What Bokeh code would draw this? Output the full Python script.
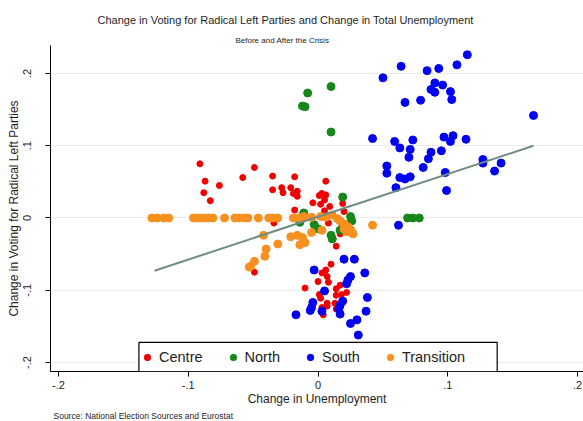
from bokeh.plotting import figure
from bokeh.models import (FixedTicker, Legend, LegendItem, Title, BoxAnnotation, Range1d)
from bokeh.embed import file_html
from bokeh.resources import INLINE

# ---------------- data ----------------
centre_x = [-0.091, -0.087, -0.076, -0.088, -0.083, -0.058, -0.049, -0.035, -0.018, 0.006,
            -0.035, -0.028, -0.027, -0.021, -0.019, -0.016, -0.016, 0.003, 0.006, 0.001,
            0.005, -0.004, 0.002, 0.009, -0.018, 0.005, 0.019, 0.020, -0.034, 0.008,
            0.017, 0.014, -0.049, 0.010, 0.006, 0.003, 0.007, 0.000, 0.008, -0.010,
            0.017, 0.014, 0.022, 0.001, 0.014, 0.018, 0.002, 0.007, 0.013, 0.003,
            0.007, 0.014, 0.004]
centre_y = [0.075, 0.051, 0.045, 0.035, 0.024, 0.056, 0.070, 0.058, 0.057, 0.051,
            0.039, 0.042, 0.035, 0.042, 0.034, 0.037, 0.030, 0.034, 0.032, 0.031,
            0.025, 0.021, 0.019, 0.016, 0.011, 0.010, 0.020, 0.009, -0.007, -0.007,
            -0.022, -0.039, -0.075, -0.064, -0.072, -0.076, -0.081, -0.088, -0.089, -0.097,
            -0.093, -0.098, -0.103, -0.106, -0.107, -0.106, -0.111, -0.118, -0.118, -0.124,
            -0.122, -0.126, -0.134]

north_x = [-0.008, 0.010, -0.012, -0.010, 0.010, 0.069, 0.073, 0.078, 0.019, -0.011,
           -0.003, 0.000, 0.010, 0.011, 0.017, 0.025, 0.026, 0.019, -0.014]
north_y = [0.173, 0.182, 0.155, 0.154, 0.119, 0.000, 0.000, 0.000, 0.029, 0.007,
           -0.009, -0.015, -0.024, -0.029, -0.017, 0.002, -0.004, -0.013, -0.006]

south_x = [0.050, 0.064, 0.084, 0.093, 0.107, 0.115, 0.090, 0.096, 0.087, 0.090,
           0.102, 0.103, 0.079, 0.067, 0.166, 0.042, 0.059, 0.073, 0.063, 0.071,
           0.070, 0.087, 0.085, 0.095, 0.097, 0.102, 0.104, 0.114, 0.053, 0.053,
           0.081, 0.063, 0.067, 0.071, 0.098, 0.127, 0.127, 0.141, 0.136, 0.060,
           0.099, 0.062, 0.020, 0.028, -0.003, 0.036, 0.025, 0.023, 0.022, 0.005,
           0.038, -0.004, 0.019, -0.005, -0.006, 0.003, 0.016, 0.017, 0.037, -0.017,
           0.030, 0.025, 0.031, 0.017]
south_y = [0.194, 0.210, 0.204, 0.207, 0.212, 0.226, 0.187, 0.184, 0.178, 0.174,
           0.175, 0.164, 0.163, 0.160, 0.142, 0.110, 0.106, 0.108, 0.097, 0.095,
           0.084, 0.091, 0.082, 0.093, 0.112, 0.106, 0.114, 0.109, 0.072, 0.062,
           0.070, 0.056, 0.054, 0.057, 0.063, 0.081, 0.076, 0.076, 0.065, 0.042,
           0.038, -0.010, -0.057, -0.057, -0.072, -0.076, -0.081, -0.086, -0.091, -0.101,
           -0.110, -0.117, -0.115, -0.124, -0.128, -0.129, -0.126, -0.133, -0.129, -0.134,
           -0.141, -0.146, -0.162, -0.121]

trans_x = [-0.128, -0.124, -0.119, -0.115, -0.096, -0.093, -0.090, -0.087, -0.084, -0.081,
           -0.072, -0.064, -0.061, -0.057, -0.054, -0.046, -0.038, -0.035, -0.031, -0.019,
           -0.015, -0.011, -0.005, 0.002, 0.006, 0.011, 0.015,
           0.017, 0.020, 0.023, 0.025, 0.027, 0.022, 0.020, 0.042,
           -0.042, -0.021, -0.016, -0.031, -0.040, -0.041, -0.049, -0.052, -0.053, -0.012,
           -0.010, -0.014, -0.005, 0.003, 0.026]
trans_y = [0.000, 0.000, 0.000, 0.000, 0.000, 0.000, 0.000, 0.000, 0.000, 0.000,
           0.000, 0.000, 0.000, 0.000, 0.000, 0.000, 0.000, 0.000, 0.000, 0.000,
           0.000, 0.002, 0.001, 0.002, 0.001, 0.004, -0.001,
           -0.004, -0.008, -0.012, -0.016, -0.022, -0.019, -0.015, -0.010,
           -0.024, -0.026, -0.024, -0.036, -0.043, -0.053, -0.060, -0.067, -0.068, -0.027,
           -0.034, -0.037, -0.020, -0.017, -0.020]

fit_x = [-0.126, 0.166]
fit_y = [-0.073, 0.100]

tick_values = [-0.2, -0.1, 0.0, 0.1, 0.2]
tick_labels = ["-.2", "-.1", "0", ".1", ".2"]

title_text = "Change in Voting for Radical Left Parties and Change in Total Unemployment"
subtitle_text = "Before and After the Crisis"
source_text = "Source: National Election Sources and Eurostat"
x_label = "Change in Unemployment"
y_label = "Change in Voting for Radical Left Parties"
series_names = ["Centre", "North", "South", "Transition"]

# ---------------- styling ----------------
FONT = "Liberation Sans"
TXT = "#1e1e1e"
RED, GREEN, BLUE, ORANGE = "#f00000", "#17871a", "#0000f2", "#f7901e"

p = figure(width=583, height=421, output_backend="svg", toolbar_location=None,
           x_range=Range1d(-0.2061, 0.2045), y_range=Range1d(-0.2125, 0.2388),
           min_border_left=50, min_border_right=0, min_border_top=45, min_border_bottom=50)
p.outline_line_color = None
p.background_fill_color = "white"
p.border_fill_color = "white"

ticker = FixedTicker(ticks=tick_values)
overrides = dict(zip(tick_values, tick_labels))
for ax in (p.xaxis[0], p.yaxis[0]):
    ax.ticker = ticker
    ax.major_label_overrides = overrides
    ax.minor_tick_line_color = None
    ax.major_tick_out = 5
    ax.major_tick_in = 0
    ax.axis_line_color = "black"
    ax.major_tick_line_color = "black"
    ax.major_label_text_font = FONT
    ax.major_label_text_font_size = "11px"
    ax.major_label_text_color = TXT
    ax.axis_label_text_font = FONT
    ax.axis_label_text_font_size = "12px"
    ax.axis_label_text_font_style = "normal"
    ax.axis_label_text_color = TXT

p.xaxis.axis_label = x_label
p.yaxis.axis_label = y_label
p.xaxis.major_label_standoff = 4
p.xaxis.axis_label_standoff = 0
p.yaxis.major_label_standoff = 14
p.yaxis.axis_label_standoff = 0
p.yaxis.major_label_orientation = "vertical"

p.xgrid.grid_line_color = None
p.ygrid.ticker = ticker
p.ygrid.grid_line_color = "#ebebeb"

r_c = p.scatter(centre_x, centre_y, size=6, fill_color=RED, line_color=RED)
r_n = p.scatter(north_x, north_y, size=8, fill_color=GREEN, line_color=GREEN)
r_s = p.scatter(south_x, south_y, size=8, fill_color=BLUE, line_color=BLUE)
r_t = p.scatter(trans_x, trans_y, size=8, fill_color=ORANGE, line_color=ORANGE)
p.line(fit_x, fit_y, line_color="#6f8c80", line_width=2)

# legend frame
box = BoxAnnotation(left=-0.138, right=0.138, top=-0.1723, bottom=-0.2125,
                    fill_color="white", fill_alpha=1, line_color="black", line_width=1.2, line_alpha=1)
p.add_layout(box)

legend = Legend(items=[LegendItem(label=n, renderers=[r]) for n, r in zip(series_names, [r_c, r_n, r_s, r_t])],
                orientation="horizontal", location=(89, 6), padding=0, margin=0, spacing=22,
                glyph_width=16, glyph_height=16, label_standoff=4,
                label_text_font=FONT, label_text_font_size="14.5px", label_text_color=TXT,
                border_line_alpha=0, background_fill_alpha=0)
p.add_layout(legend, "center")

sub = Title(text=subtitle_text, align="left", offset=185, text_font=FONT, text_font_size="8px",
            text_font_style="normal", text_color=TXT, standoff=1)
main = Title(text=title_text, align="left", offset=47, text_font=FONT, text_font_size="11px",
             text_font_style="normal", text_color=TXT, standoff=15)
p.add_layout(sub, "above")
p.add_layout(main, "above")

src = Title(text=source_text, align="left", offset=3, text_font=FONT, text_font_size="8.5px",
            text_font_style="normal", text_color=TXT, standoff=0)
p.add_layout(src, "below")

open("out.html", "w").write(file_html(p, INLINE))
